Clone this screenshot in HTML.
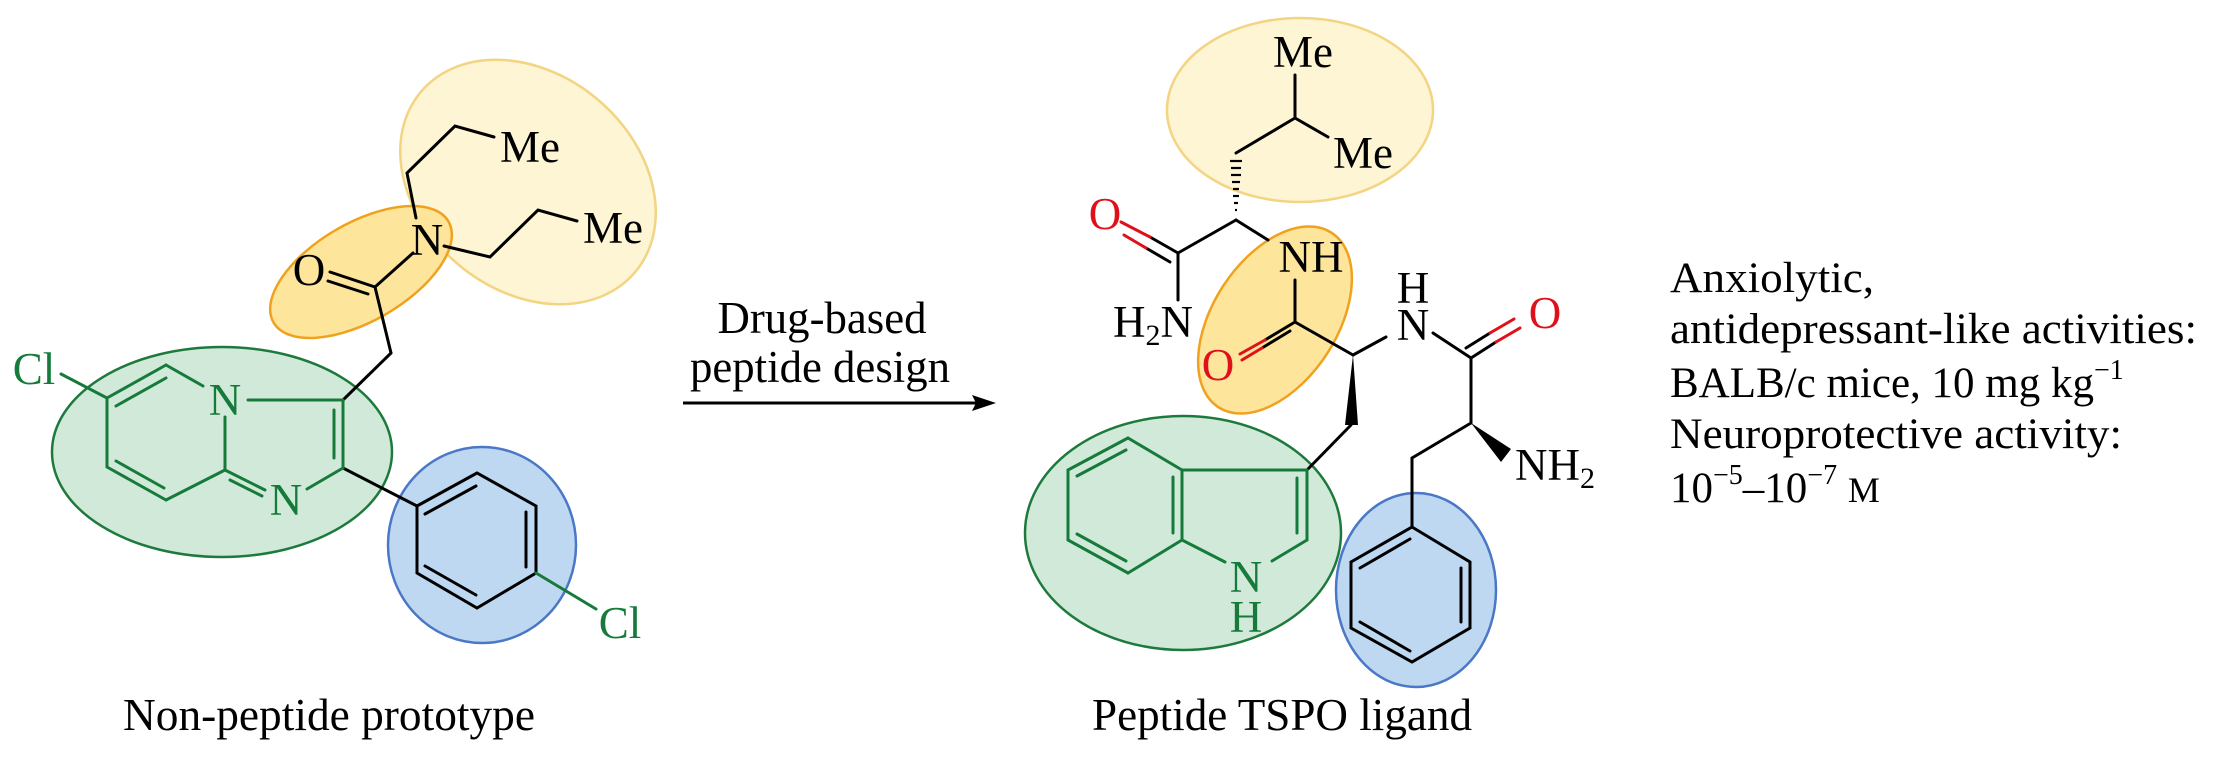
<!DOCTYPE html>
<html><head><meta charset="utf-8"><style>
html,body{margin:0;padding:0;background:#fff;}
svg{display:block;}
text{font-family:"Liberation Serif",serif;}
</style></head><body>
<svg width="2213" height="773" viewBox="0 0 2213 773" xmlns="http://www.w3.org/2000/svg">
<!-- LEFT MOLECULE highlights -->
<ellipse cx="528" cy="182" rx="140" ry="108" transform="rotate(40 528 182)" fill="#fdf5d3" stroke="#f3d483" stroke-width="2.5"/>
<ellipse cx="361" cy="272" rx="101" ry="49" transform="rotate(-30 361 272)" fill="#fde59b" stroke="#f0a21e" stroke-width="2.5"/>
<ellipse cx="222" cy="452" rx="170" ry="105" fill="#d1e9d9" stroke="#1d7a3c" stroke-width="2.5"/>
<ellipse cx="482" cy="545" rx="94" ry="98" fill="#bfd8f1" stroke="#4a78c6" stroke-width="2.5"/>

<g stroke="#000" stroke-width="3" fill="none" stroke-linecap="round">
  <!-- C=O -->
  <line x1="330" y1="272" x2="375" y2="287"/>
  <line x1="328" y1="281" x2="368" y2="294"/>
  <line x1="375" y1="287" x2="413" y2="253"/>
  <line x1="375" y1="287" x2="391" y2="353"/>
  <line x1="391" y1="353" x2="343" y2="400"/>
  <!-- propyls -->
  <polyline points="416,218 407,173 455,126 494,137"/>
  <polyline points="444,246 490,257 538,210 577,221"/>
  <!-- phenyl -->
  <line x1="343" y1="468" x2="417" y2="506"/>
  <polygon points="417,506 477,473 536,506 536,573 477,608 417,573"/>
  <line x1="425" y1="514" x2="476" y2="486"/>
  <line x1="526" y1="512" x2="526" y2="567"/>
  <line x1="425" y1="566" x2="476" y2="595"/>
</g>
<g stroke="#167a3a" stroke-width="3" fill="none" stroke-linecap="round">
  <line x1="536" y1="573" x2="596" y2="609"/>
  <line x1="61" y1="374" x2="107" y2="398"/>
  <line x1="107" y1="398" x2="166" y2="365"/>
  <line x1="116" y1="406" x2="166" y2="378"/>
  <line x1="166" y1="365" x2="203" y2="386"/>
  <line x1="248" y1="400" x2="343" y2="400"/>
  <line x1="343" y1="400" x2="343" y2="468"/>
  <line x1="334" y1="410" x2="334" y2="458"/>
  <line x1="343" y1="468" x2="307" y2="489"/>
  <line x1="225" y1="470" x2="265" y2="490"/>
  <line x1="230" y1="480" x2="262" y2="496"/>
  <line x1="225" y1="417" x2="225" y2="470"/>
  <line x1="225" y1="470" x2="166" y2="500"/>
  <line x1="166" y1="500" x2="107" y2="467"/>
  <line x1="164" y1="488" x2="116" y2="461"/>
  <line x1="107" y1="467" x2="107" y2="398"/>
</g>
<g font-size="45" fill="#167a3a" text-anchor="middle">
  <text x="225" y="415">N</text>
  <text x="286" y="515">N</text>
  <text x="34" y="384">Cl</text>
  <text x="620" y="638">Cl</text>
</g>
<g font-size="45" fill="#000">
  <text x="427" y="255" text-anchor="middle">N</text>
  <text x="309" y="285" text-anchor="middle">O</text>
  <text x="500" y="162">Me</text>
  <text x="583" y="243">Me</text>
</g>
<text x="329" y="730" font-size="46" text-anchor="middle" textLength="412" lengthAdjust="spacingAndGlyphs">Non-peptide prototype</text>

<!-- ARROW -->
<line x1="683" y1="403" x2="978" y2="403" stroke="#000" stroke-width="3"/>
<polygon points="996,403 972,395 976,403 972,411" fill="#000"/>
<text x="822" y="333" font-size="45" text-anchor="middle" textLength="209" lengthAdjust="spacingAndGlyphs">Drug-based</text>
<text x="820" y="382" font-size="45" text-anchor="middle" textLength="260" lengthAdjust="spacingAndGlyphs">peptide design</text>

<!-- RIGHT MOLECULE highlights -->
<ellipse cx="1300" cy="110" rx="133" ry="92" fill="#fdf5d3" stroke="#f3d483" stroke-width="2.5"/>
<ellipse cx="1275" cy="320" rx="104" ry="62" transform="rotate(-57 1275 320)" fill="#fde59b" stroke="#f0a21e" stroke-width="2.5"/>
<ellipse cx="1183" cy="533" rx="158" ry="117" fill="#d1e9d9" stroke="#1d7a3c" stroke-width="2.5"/>
<ellipse cx="1416" cy="590" rx="80" ry="97" fill="#bfd8f1" stroke="#4a78c6" stroke-width="2.5"/>

<g stroke="#000" stroke-width="3" fill="none" stroke-linecap="round">
  <line x1="1295" y1="75" x2="1295" y2="118"/>
  <line x1="1295" y1="118" x2="1328" y2="137"/>
  <line x1="1295" y1="118" x2="1236" y2="153"/>
  <line x1="1236" y1="220" x2="1178" y2="253"/>
  <line x1="1236" y1="220" x2="1268" y2="240"/>
  <line x1="1178" y1="253" x2="1178" y2="300"/>
  <line x1="1178" y1="253" x2="1150" y2="237"/>
  <line x1="1170" y1="262" x2="1146" y2="248"/>
  <line x1="1295" y1="280" x2="1295" y2="322"/>
  <line x1="1295" y1="322" x2="1265" y2="340"/>
  <line x1="1290" y1="331" x2="1262" y2="348"/>
  <line x1="1295" y1="322" x2="1353" y2="355"/>
  <line x1="1353" y1="355" x2="1386" y2="337"/>
  <line x1="1351" y1="425" x2="1307" y2="470"/>
  <line x1="1433" y1="333" x2="1471" y2="358"/>
  <line x1="1471" y1="358" x2="1496" y2="342"/>
  <line x1="1466" y1="348" x2="1490" y2="333"/>
  <line x1="1471" y1="358" x2="1471" y2="423"/>
  <line x1="1471" y1="423" x2="1412" y2="458"/>
  <line x1="1412" y1="458" x2="1412" y2="527"/>
  <polygon points="1412,527 1470,562 1470,628 1412,662 1351,628 1351,562"/>
  <line x1="1461" y1="568" x2="1461" y2="622"/>
  <line x1="1360" y1="568" x2="1410" y2="539"/>
  <line x1="1360" y1="622" x2="1410" y2="651"/>
</g>
<g stroke="#e0101a" stroke-width="3" stroke-linecap="round">
  <line x1="1150" y1="237" x2="1121" y2="222"/>
  <line x1="1146" y1="248" x2="1124" y2="235"/>
  <line x1="1265" y1="340" x2="1240" y2="354"/>
  <line x1="1262" y1="348" x2="1242" y2="360"/>
  <line x1="1496" y1="342" x2="1520" y2="328"/>
  <line x1="1490" y1="333" x2="1514" y2="319"/>
</g>
<!-- hashed bond -->
<g stroke="#000" stroke-width="2.2">
  <line x1="1230" y1="161" x2="1242" y2="161"/>
  <line x1="1231" y1="168" x2="1241" y2="168"/>
  <line x1="1231" y1="175" x2="1241" y2="175"/>
  <line x1="1232" y1="182" x2="1240" y2="182"/>
  <line x1="1233" y1="189" x2="1239" y2="189"/>
  <line x1="1233" y1="196" x2="1239" y2="196"/>
  <line x1="1234" y1="203" x2="1238" y2="203"/>
  <line x1="1235" y1="210" x2="1237" y2="210"/>
</g>
<polygon points="1353,355 1345,425 1358,425" fill="#000"/>
<polygon points="1471,423 1501,462 1511,449" fill="#000"/>
<!-- indole -->
<g stroke="#167a3a" stroke-width="3" fill="none" stroke-linecap="round">
  <line x1="1307" y1="470" x2="1182" y2="470"/>
  <line x1="1307" y1="470" x2="1307" y2="540"/>
  <line x1="1297" y1="478" x2="1297" y2="533"/>
  <line x1="1307" y1="540" x2="1272" y2="561"/>
  <line x1="1182" y1="540" x2="1225" y2="562"/>
  <line x1="1182" y1="470" x2="1182" y2="540"/>
  <line x1="1173" y1="477" x2="1173" y2="533"/>
  <line x1="1182" y1="470" x2="1128" y2="438"/>
  <line x1="1128" y1="438" x2="1068" y2="470"/>
  <line x1="1126" y1="450" x2="1077" y2="476"/>
  <line x1="1068" y1="470" x2="1068" y2="540"/>
  <line x1="1068" y1="540" x2="1128" y2="573"/>
  <line x1="1077" y1="534" x2="1126" y2="561"/>
  <line x1="1128" y1="573" x2="1182" y2="540"/>
</g>
<g font-size="45" fill="#167a3a" text-anchor="middle">
  <text x="1246" y="592">N</text>
  <text x="1246" y="632">H</text>
</g>
<g font-size="45" fill="#000">
  <text x="1303" y="67" text-anchor="middle">Me</text>
  <text x="1333" y="168">Me</text>
  <text x="1311" y="272" text-anchor="middle">NH</text>
  <text x="1413" y="303" text-anchor="middle">H</text>
  <text x="1413" y="340" text-anchor="middle">N</text>
  <text x="1113" y="337">H<tspan font-size="30" dy="8">2</tspan><tspan dy="-8">N</tspan></text>
  <text x="1515" y="480">NH<tspan font-size="30" dy="8">2</tspan></text>
</g>
<g font-size="45" fill="#e0101a" text-anchor="middle">
  <text x="1105" y="229">O</text>
  <text x="1218" y="380">O</text>
  <text x="1545" y="328">O</text>
</g>
<text x="1282" y="730" font-size="46" text-anchor="middle" textLength="380" lengthAdjust="spacingAndGlyphs">Peptide TSPO ligand</text>

<!-- RIGHT TEXT -->
<g font-size="43" fill="#000">
  <text x="1670" y="292" textLength="204" lengthAdjust="spacingAndGlyphs">Anxiolytic,</text>
  <text x="1670" y="343" textLength="527" lengthAdjust="spacingAndGlyphs">antidepressant-like activities:</text>
  <text x="1670" y="397">BALB/c mice, 10 mg kg<tspan font-size="28" dy="-18">−1</tspan></text>
  <text x="1670" y="448" textLength="452" lengthAdjust="spacingAndGlyphs">Neuroprotective activity:</text>
  <text x="1670" y="502">10<tspan font-size="28" dy="-18">−5</tspan><tspan dy="18">–10</tspan><tspan font-size="28" dy="-18">−7</tspan><tspan dy="18"> </tspan><tspan font-size="36">M</tspan></text>
</g>
</svg>
</body></html>
